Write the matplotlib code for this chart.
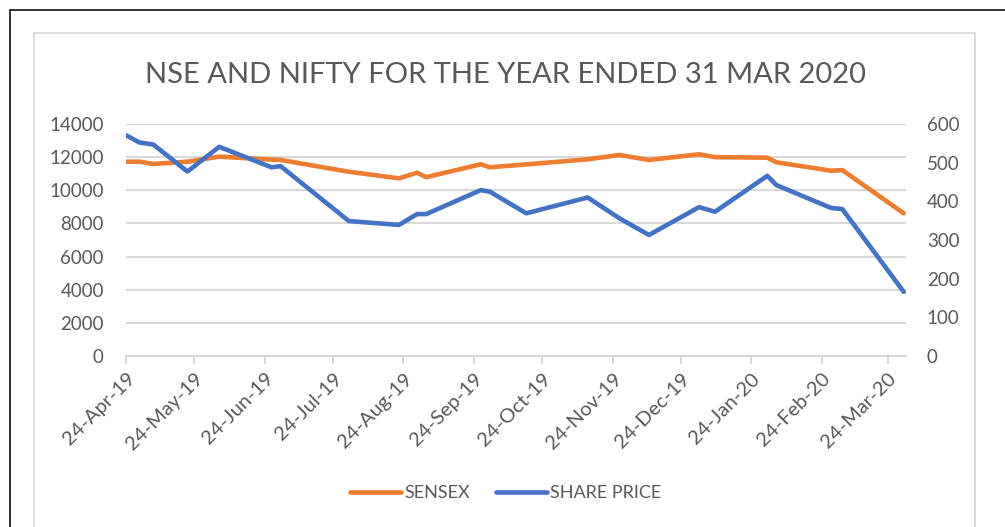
import pandas as pd
import matplotlib
matplotlib.use("Agg")
import matplotlib.pyplot as plt
import matplotlib.dates as mdates
from matplotlib.patches import Rectangle
from matplotlib.lines import Line2D

# data
dates = pd.to_datetime([
    "2019-04-24", "2019-04-30", "2019-05-06", "2019-05-21", "2019-06-04",
    "2019-06-27", "2019-07-01", "2019-07-31", "2019-08-22", "2019-08-30",
    "2019-09-03", "2019-09-27", "2019-10-01", "2019-10-17", "2019-11-13",
    "2019-11-27", "2019-12-10", "2020-01-01", "2020-01-08", "2020-01-31",
    "2020-02-04", "2020-02-28", "2020-03-04", "2020-03-31",
])
sensex = [11725, 11725, 11590, 11725, 12030, 11850, 11830, 11120, 10720, 11060,
          10790, 11570, 11390, 11560, 11870, 12130, 11830, 12170, 12000, 11970,
          11690, 11180, 11220, 8610]
share_price = [571, 552, 547, 477, 541, 488, 491, 349, 339, 367,
               367, 429, 425, 369, 410, 356, 313, 385, 373, 466,
               442, 383, 380, 166]

left_ticks = list(range(0, 14001, 2000))
right_ticks = list(range(0, 601, 100))

ORANGE = "#ED7D31"
BLUE = "#4472C4"
TXT = "#595959"
GRID = "#D9D9D9"
FONT = "Lato"

W, H = 1005, 527
fig = plt.figure(figsize=(W / 100, H / 100), dpi=100)

# outer black frame and inner chart-area border
fig.patches.append(Rectangle((10 / W, -0.1), 1.2, 1 - 9.5 / H + 0.1, transform=fig.transFigure,
                             fill=False, edgecolor="#222222", linewidth=1.3))
fig.patches.append(Rectangle((34 / W, -0.1), (975 - 34) / W, 1 - 33 / H + 0.1, transform=fig.transFigure,
                             fill=False, edgecolor="#D9D9D9", linewidth=1.3))

ax = fig.add_axes([126 / W, 1 - 356 / H, (906 - 126) / W, (356 - 124) / H])
ax2 = ax.twinx()

ax.plot(dates, sensex, color=ORANGE, linewidth=3.3, solid_joinstyle="round", solid_capstyle="round", zorder=3)
ax2.plot(dates, share_price, color=BLUE, linewidth=3.3, solid_joinstyle="round", solid_capstyle="round", zorder=3)

ax.set_ylim(0, 14000)
ax2.set_ylim(0, 600)
ax.set_yticks(left_ticks)
ax2.set_yticks(right_ticks)
ax.set_xlim(pd.Timestamp("2019-04-24"), pd.Timestamp("2020-04-01"))

xt = pd.date_range("2019-04-01", "2020-03-01", freq="MS") + pd.Timedelta(days=23)
ax.set_xticks(xt)
ax.xaxis.set_major_formatter(mdates.DateFormatter("%d-%b-%y"))

for a in (ax, ax2):
    for s in a.spines.values():
        s.set_visible(False)
ax.spines["bottom"].set_visible(True)
ax.spines["bottom"].set_color(GRID)
ax.spines["bottom"].set_linewidth(1.5)

ax.grid(axis="y", color=GRID, linewidth=1.5)
ax.set_axisbelow(True)
ax.tick_params(axis="y", length=0, pad=16, labelsize=13.5, labelcolor=TXT)
ax2.tick_params(axis="y", length=0, pad=15, labelsize=13.5, labelcolor=TXT)
ax.tick_params(axis="x", length=6, width=1.5, color=GRID, labelsize=14.5, labelcolor=TXT, pad=4)
for lab in ax.get_xticklabels():
    lab.set_rotation(45)
    lab.set_ha("right")
    lab.set_rotation_mode("anchor")
for lab in ax.get_yticklabels() + ax2.get_yticklabels() + ax.get_xticklabels():
    lab.set_fontfamily(FONT)

fig.text(505 / W, 1 - 75 / H, "NSE AND NIFTY FOR THE YEAR ENDED 31 MAR 2020",
         ha="center", va="center", fontsize=21, color=TXT, fontfamily=FONT)

handles = [Line2D([], [], color=ORANGE, linewidth=3.3, solid_capstyle="round"),
           Line2D([], [], color=BLUE, linewidth=3.3, solid_capstyle="round")]
fig.legend(handles, ["SENSEX", "SHARE PRICE"], loc="center", bbox_to_anchor=(506 / W, 1 - 493 / H),
           ncol=2, frameon=False, handlelength=2.8, handletextpad=0.2, columnspacing=1.45,
           prop={"family": FONT, "size": 13}, labelcolor=TXT)

fig.savefig("out.png", dpi=100)
